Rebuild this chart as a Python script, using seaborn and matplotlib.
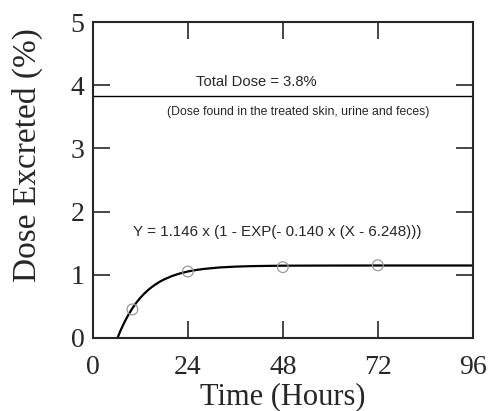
import numpy as np
import pandas as pd
import matplotlib
matplotlib.use("Agg")
import matplotlib.pyplot as plt
import seaborn as sns

# observed data points
obs_hours = [10, 24, 48, 72]
obs_dose = [0.45, 1.05, 1.12, 1.15]

# fitted curve
fit_hours = [6.25, 7, 8, 9, 10, 11, 12, 13, 14, 15, 16, 17, 18, 20, 22, 24, 26, 28, 32, 36, 40, 48, 60, 72, 96]
fit_dose = [0.0, 0.114, 0.249, 0.366, 0.468, 0.557, 0.634, 0.701, 0.759, 0.809, 0.853, 0.892, 0.925,
            0.979, 1.020, 1.051, 1.074, 1.091, 1.115, 1.128, 1.136, 1.143, 1.145, 1.146, 1.146]

total_dose = 3.83
x_ticks = [0, 24, 48, 72, 96]
y_ticks = [0, 1, 2, 3, 4, 5]

sns.set_style("ticks")
plt.rcParams["font.family"] = ["Liberation Serif", "DejaVu Serif"]

fig = plt.figure(figsize=(4.91, 4.11), dpi=100)
ax = fig.add_axes([0.189, 0.178, 0.774, 0.768])

obs = pd.DataFrame({"hours": obs_hours, "dose": obs_dose})
fit = pd.DataFrame({"hours": fit_hours, "dose": fit_dose})

sns.lineplot(data=fit, x="hours", y="dose", ax=ax, color="black", linewidth=1.6, sort=True,
             estimator=None)
sns.scatterplot(data=obs, x="hours", y="dose", ax=ax, marker="o", s=60,
                facecolors="none", edgecolor="#999999", linewidth=0.9, zorder=3)
ax.axhline(total_dose, color="black", linewidth=1.0)

sans = ["Liberation Sans", "DejaVu Sans"]
ax.text(41.4, 4.05, "Total Dose = 3.8%", ha="center", va="center", fontsize=10.6, family=sans)
ax.text(52, 3.58, "(Dose found in the treated skin, urine and feces)", ha="center", va="center",
        fontsize=8.8, family=sans)
ax.text(46.5, 1.68, "Y = 1.146 x (1 - EXP(- 0.140 x (X - 6.248)))", ha="center", va="center",
        fontsize=10.9, family=sans)

ax.set_xlim(0, 96)
ax.set_ylim(0, 5)
ax.set_xticks(x_ticks)
ax.set_yticks(y_ticks)
ax.set_xticklabels([str(t) for t in x_ticks])
ax.set_yticklabels([str(t) for t in y_ticks])
ax.tick_params(direction="in", length=12, width=1.2, top=True, right=True, labelsize=20)
ax.tick_params(axis="x", pad=12)
ax.tick_params(axis="y", pad=6)
for s in ax.spines.values():
    s.set_visible(True)
    s.set_linewidth(1.5)
ax.set_xlabel("Time (Hours)", fontsize=22, labelpad=2)
ax.set_ylabel("Dose Excreted (%)", fontsize=24)
ax.yaxis.set_label_coords(-0.132, 0.579)

fig.savefig("out.png", dpi=100)
